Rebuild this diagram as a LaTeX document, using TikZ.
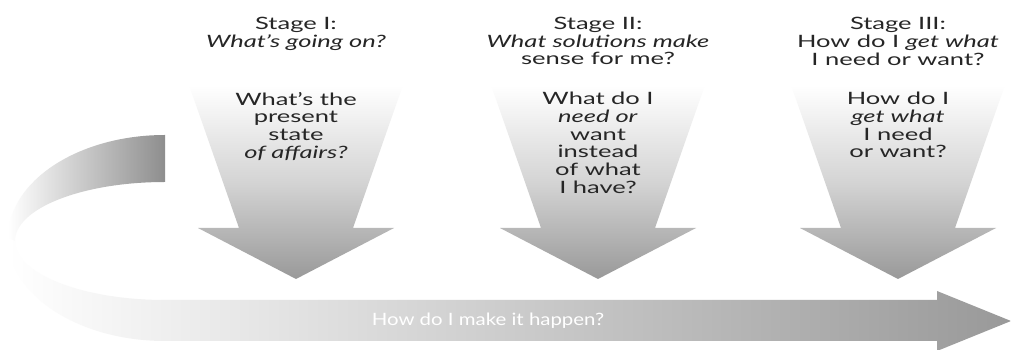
\documentclass[tikz,border=0pt]{standalone}
\usepackage{fontspec}
\setmainfont{Lato}
\definecolor{ink}{HTML}{262626}
\definecolor{headgray}{HTML}{999999}
\definecolor{midgray}{HTML}{D4D4D4}
\definecolor{loopgray}{HTML}{8E8E8E}
\newcommand\stk[2][1.5]{\scalebox{#1}[1]{\begin{tabular}{@{}c@{}}#2\end{tabular}}}
\begin{document}
\begin{tikzpicture}[x=1pt,y=1pt,
  downarrow/.style={draw=none, top color=white, bottom color=headgray, middle color=midgray},
  txt/.style={font=\fontsize{17}{17.6}\selectfont, text=ink, inner sep=0pt, anchor=north},
  bandfill/.style={draw=none, left color=white, right color=headgray},
  loopfill/.style={draw=none, left color=white, right color=loopgray}]
\useasboundingbox (0,0) rectangle (1011,350);
\fill[white] (0,0) rectangle (1011,350);
% returning loop, upper half
\path[loopfill] (165,215) arc[start angle=90, end angle=180, x radius=157, y radius=103]
  -- (15,109) arc[start angle=180, end angle=90, x radius=150, y radius=59] -- cycle;
% lower half and bottom arrow
\path[bandfill] (8,112) arc[start angle=180, end angle=270, x radius=157, y radius=103]
  -- (937,9) -- (937,-1) -- (1011,29) -- (937,59) -- (937,50) -- (165,50)
  arc[start angle=270, end angle=180, x radius=150, y radius=59] -- cycle;
% three downward arrows
\foreach \c in {296,598,898}{
  \path[downarrow] (\c-107,265) -- (\c-57,122) -- (\c-98,122) -- (\c,71)
    -- (\c+98,122) -- (\c+57,122) -- (\c+107,265) -- cycle;
}
% headers
\node[txt] (h1) at (296,333) {\stk{Stage I:\\ \textit{What's going on?}}};
\node[txt] (h2) at (598,333) {\stk{Stage II:\\ \textit{What solutions make}\\ sense for me?}};
\node[txt] (h3) at (898,333) {\stk{Stage III:\\ How do I \textit{get what}\\ I need or want?}};
% questions in arrows
\node[txt] (q1) at (296,258) {\stk{What's the\\ present\\ state\\ \textit{of affairs?}}};
\node[txt] (q2) at (598,258) {\stk{What do I\\ \textit{need or}\\ want\\ instead\\ of what\\ I have?}};
\node[txt] (q3) at (898,258) {\stk{How do I\\ \textit{get what}\\ I need\\ or want?}};
% bottom label
\node[font=\fontsize{17}{17.6}\selectfont, text=white, inner sep=0pt] (b) at (488,28) {\stk[1.2]{How do I make it happen?}};
\end{tikzpicture}
\end{document}
